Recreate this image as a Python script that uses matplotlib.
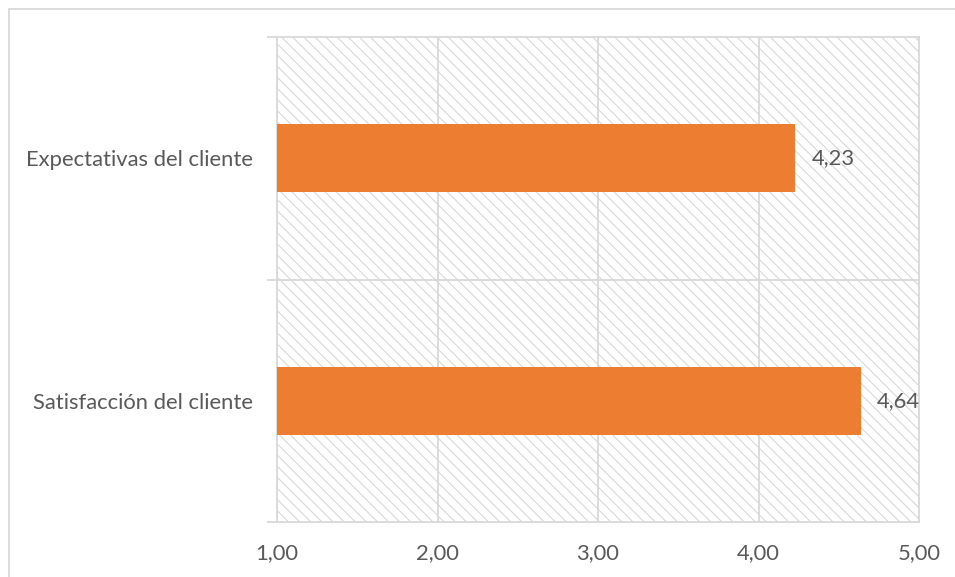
import matplotlib
matplotlib.use("Agg")
import matplotlib.pyplot as plt
from matplotlib.patches import Rectangle

categories = ["Satisfacción del cliente", "Expectativas del cliente"]
values = [4.64, 4.23]
xticks = [1.0, 2.0, 3.0, 4.0, 5.0]
xtick_labels = ["1,00", "2,00", "3,00", "4,00", "5,00"]

GRID = "#d9d9d9"
TEXT = "#595959"
BAR = "#ED7D31"
FS = 15.8

plt.rcParams["font.family"] = ["Lato", "DejaVu Sans"]
plt.rcParams["hatch.linewidth"] = 0.75

fig = plt.figure(figsize=(9.55, 5.77), dpi=100)
ax = fig.add_axes([277 / 955, 1 - 522 / 577, (919 - 277) / 955, (522 - 37) / 577])

# patterned plot background
ax.add_patch(Rectangle((0, 0), 1, 1, transform=ax.transAxes, facecolor="white",
                       edgecolor="#d6d6d6", linewidth=0, hatch="\\\\\\", zorder=0))

ypos = list(range(len(categories)))
ax.barh(ypos, [v - xticks[0] for v in values], left=xticks[0], height=0.28,
        color=BAR, zorder=3)
for y, v in zip(ypos, values):
    ax.text(v + 0.1, y, f"{v:.2f}".replace(".", ","), va="center", ha="left",
            color=TEXT, fontsize=FS, zorder=4)

ax.set_xlim(xticks[0], xticks[-1])
ax.set_ylim(-0.5, len(categories) - 0.5)
ax.set_xticks(xticks)
ax.set_xticklabels(xtick_labels)
ax.set_yticks(ypos)
ax.set_yticklabels(categories)
ax.set_yticks([-0.5, 0.5, 1.5], minor=True)

ax.grid(axis="x", color=GRID, linewidth=1.3, zorder=1)
ax.set_axisbelow(True)
ax.axhline(0.5, color=GRID, linewidth=1.3, zorder=1)

for side in ["top", "bottom", "left", "right"]:
    ax.spines[side].set_color(GRID)
    ax.spines[side].set_linewidth(1.3)

ax.tick_params(axis="x", length=0, pad=15, labelsize=FS, labelcolor=TEXT)
ax.tick_params(axis="y", which="major", length=0, pad=17, labelsize=FS, labelcolor=TEXT)
ax.tick_params(axis="y", which="minor", length=7, width=1.3, color=GRID)

# chart frame
fig.patches.append(Rectangle((8.5 / 955, -0.1), 1.2, 1 - 8.5 / 577 + 0.1,
                             transform=fig.transFigure, fill=False,
                             edgecolor=GRID, linewidth=1.3))

fig.savefig("out.png", dpi=100)
